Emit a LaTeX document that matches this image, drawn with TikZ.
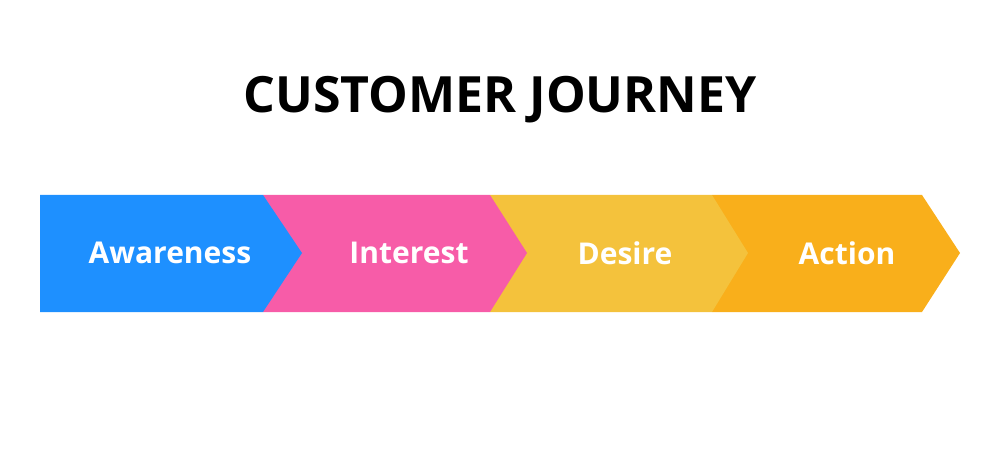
\documentclass[tikz,border=0pt]{standalone}
\usepackage{fontspec}
\setmainfont{Open Sans}
\usetikzlibrary{positioning,calc}
\definecolor{awareBlue}{HTML}{1E90FF}
\definecolor{interestPink}{HTML}{F75CA8}
\definecolor{desireYellow}{HTML}{F4C23C}
\definecolor{actionOrange}{HTML}{F9AF1B}
\begin{document}
\begin{tikzpicture}[x=1pt,y=1pt,
				stage/.style={text=white, font=\fontsize{30}{36}\selectfont\bfseries},
				title/.style={font=\fontsize{50}{60}\selectfont\bfseries}]
			\useasboundingbox (0,0) rectangle (1000,450);
			% stages, right to left so every tip lies on top
			\fill[actionOrange] (712,255) -- (922,255) -- (960,197) -- (922,138) -- (712,138) -- cycle;
			\fill[desireYellow] (490,255) -- (712,255) -- (748,197) -- (712,138) -- (490,138) -- cycle;
			\fill[interestPink] (263,255) -- (490,255) -- (527,197) -- (490,138) -- (263,138) -- cycle;
			\fill[awareBlue] (40,255) -- (263,255) -- (302,197) -- (263,138) -- (40,138) -- cycle;
			\node [stage] (aware) at (170,197) {Awareness};
			\node [stage] (interest) at (409,197) {Interest};
			\node [stage] (desire) at (625,197) {Desire};
			\node [stage] (action) at (847,197) {Action};
			\node [title] (head) at (500,350) {CUSTOMER JOURNEY};
		\end{tikzpicture}
\end{document}
